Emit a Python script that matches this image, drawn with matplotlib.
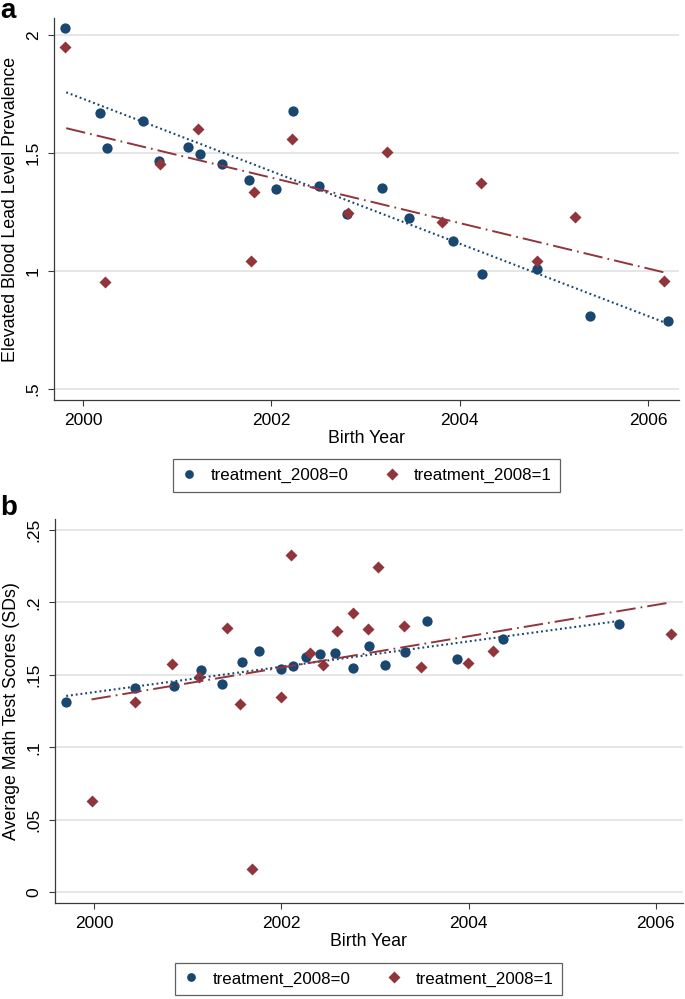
import matplotlib.pyplot as plt
import numpy as np

plt.rcParams['font.family'] = ['Liberation Sans', 'DejaVu Sans']

NAVY = '#1a476f'
MAROON = '#90353b'

# Panel a: elevated blood lead level prevalence by birth year
lead_year_0 = [1999.81, 2000.18, 2000.25, 2000.64, 2000.81, 2001.11, 2001.24, 2001.48,
               2001.76, 2002.05, 2002.23, 2002.51, 2002.80, 2003.17, 2003.46, 2003.93,
               2004.24, 2004.82, 2005.38, 2006.21]
lead_val_0 = [2.028, 1.669, 1.521, 1.637, 1.466, 1.527, 1.496, 1.453,
              1.386, 1.346, 1.678, 1.360, 1.242, 1.353, 1.223, 1.128,
              0.986, 1.007, 0.808, 0.787]
lead_year_1 = [1999.81, 2000.23, 2000.82, 2001.22, 2001.78, 2001.82, 2002.22, 2002.81,
               2003.23, 2003.81, 2004.23, 2004.82, 2005.23, 2006.17]
lead_val_1 = [1.950, 0.955, 1.453, 1.600, 1.044, 1.334, 1.558, 1.245,
              1.506, 1.206, 1.372, 1.044, 1.228, 0.959]
# linear fit lines (end points)
lead_fit_year_0 = [1999.82, 2006.22]
lead_fit_val_0 = [1.757, 0.775]
lead_fit_year_1 = [1999.82, 2006.17]
lead_fit_val_1 = [1.605, 0.994]

# Panel b: average math test scores by birth year
math_year_0 = [1999.70, 2000.44, 2000.85, 2001.14, 2001.36, 2001.58, 2001.76, 2001.99,
               2002.12, 2002.26, 2002.41, 2002.57, 2002.76, 2002.94, 2003.11, 2003.32,
               2003.55, 2003.87, 2004.37, 2005.61]
math_val_0 = [0.1314, 0.1407, 0.1425, 0.1533, 0.1439, 0.1588, 0.1664, 0.1542,
              0.1559, 0.1623, 0.1644, 0.1648, 0.1547, 0.1699, 0.1568, 0.1657,
              0.1874, 0.1611, 0.1749, 0.1849]
math_year_1 = [1999.97, 2000.44, 2000.83, 2001.12, 2001.42, 2001.56, 2001.68, 2001.99,
               2002.10, 2002.30, 2002.44, 2002.59, 2002.76, 2002.92, 2003.03, 2003.31,
               2003.49, 2003.99, 2004.26, 2006.16]
math_val_1 = [0.0628, 0.1310, 0.1573, 0.1487, 0.1823, 0.1298, 0.0161, 0.1349,
              0.2329, 0.1653, 0.1570, 0.1805, 0.1929, 0.1818, 0.2247, 0.1835,
              0.1556, 0.1584, 0.1662, 0.1782]
math_fit_year_0 = [1999.70, 2005.61]
math_fit_val_0 = [0.1354, 0.1872]
math_fit_year_1 = [1999.97, 2006.16]
math_fit_val_1 = [0.1330, 0.2000]

x_ticks = [2000, 2002, 2004, 2006]
lead_ticks = [0.5, 1, 1.5, 2]
lead_labels = ['.5', '1', '1.5', '2']
math_ticks = [0, 0.05, 0.1, 0.15, 0.2, 0.25]
math_labels = ['0', '.05', '.1', '.15', '.2', '.25']

legend_labels = ['treatment_2008=0', 'treatment_2008=1']

W, H = 685, 999
fig = plt.figure(figsize=(W / 100, H / 100), dpi=100)


def px_axes(left, top, right, bottom):
    return fig.add_axes([left / W, 1 - bottom / H, (right - left) / W, (bottom - top) / H])


def style(ax, yticks, ylabels, ylabel):
    for s in ['top', 'right']:
        ax.spines[s].set_visible(False)
    for s in ['left', 'bottom']:
        ax.spines[s].set_color('#3a3a3a')
        ax.spines[s].set_linewidth(0.9)
    ax.set_xticks(x_ticks)
    ax.set_yticks(yticks)
    ax.set_yticklabels(ylabels, rotation=90, va='center')
    ax.tick_params(length=4.5, width=0.8, color='#3a3a3a', labelsize=12.5, pad=5)
    ax.yaxis.grid(True, color='#e4e4e4', lw=1.3)
    ax.set_axisbelow(True)
    ax.set_xlabel('Birth Year', fontsize=12.8, labelpad=1)
    ax.set_ylabel(ylabel, fontsize=12.8, labelpad=5)


def panel(ax, x0, y0, x1, y1, fx0, fy0, fx1, fy1):
    h0, = ax.plot(x0, y0, 'o', color=NAVY, ms=7.4, mec='none', zorder=3)
    h1, = ax.plot(x1, y1, 'D', color=MAROON, ms=6.6, mec='none', zorder=3)
    ax.plot(fx0, fy0, color=NAVY, lw=1.5, ls=(0, (0.9, 1.4)), zorder=4)
    ax.plot(fx1, fy1, color=MAROON, lw=1.4, ls=(0, (10, 2.6, 0.9, 2.6)), zorder=4)
    return h0, h1


def legend(handles, cx, cy):
    lg = fig.legend(handles, legend_labels, loc='center', bbox_to_anchor=(cx / W, 1 - cy / H),
                    ncol=2, fontsize=12.2, frameon=True, fancybox=False, markerscale=0.85,
                    handlelength=0.9, handletextpad=0.85, columnspacing=2.1,
                    borderpad=0.5, borderaxespad=0)
    lg.get_frame().set_edgecolor('#3a3a3a')
    lg.get_frame().set_linewidth(0.9)


# panel a
ax1 = px_axes(54, 18, 679, 400)
hs = panel(ax1, lead_year_0, lead_val_0, lead_year_1, lead_val_1,
           lead_fit_year_0, lead_fit_val_0, lead_fit_year_1, lead_fit_val_1)
ax1.set_xlim(1999.69, 2006.33)
ax1.set_ylim(0.453, 2.072)
style(ax1, lead_ticks, lead_labels, 'Elevated Blood Lead Level Prevalence')
legend(hs, 366.5, 475.5)
fig.text(0, 1 - 18 / H, 'a', fontsize=20, fontweight='bold', va='baseline')

# panel b
ax2 = px_axes(55, 519, 683, 903)
hs = panel(ax2, math_year_0, math_val_0, math_year_1, math_val_1,
           math_fit_year_0, math_fit_val_0, math_fit_year_1, math_fit_val_1)
ax2.set_xlim(1999.58, 2006.29)
ax2.set_ylim(-0.0076, 0.2576)
style(ax2, math_ticks, math_labels, 'Average Math Test Scores (SDs)')
legend(hs, 368.5, 979)
fig.text(0, 1 - 515 / H, 'b', fontsize=20, fontweight='bold', va='baseline')

fig.savefig('out.png', dpi=100)
